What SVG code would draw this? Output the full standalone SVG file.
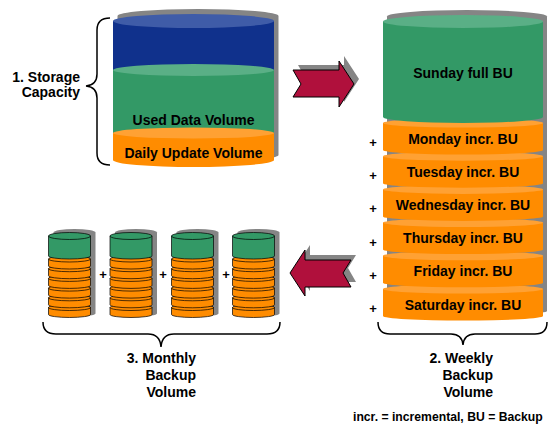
<svg xmlns="http://www.w3.org/2000/svg" xmlns:xlink="http://www.w3.org/1999/xlink" width="548" height="425" viewBox="0 0 548 425">
<style>
text{font-family:"Liberation Sans",Arial,sans-serif;font-weight:bold;fill:#000}
.lbl{font-size:14px}
.mid{text-anchor:middle}
.end{text-anchor:end}
.plus{font-size:13px;text-anchor:middle}
.shadow{fill:#858585}
.blue{fill:#10318C}.blueTop{fill:#3F5CA8}
.green{fill:#339966}.greenTop{fill:#5AAF86}
.orange{fill:#FF8C00}.orangeTop{fill:#FFA133}
.arrow{fill:#B0103C;stroke:#000;stroke-width:1}
.brace{fill:none;stroke:#000;stroke-width:1.5}
.small .green,.small .orange{stroke:#000;stroke-width:0.7}
</style>
<defs>
<g id="stack" class="small">
<path class="shadow" d="M-16,232.5 A21,3.5 0 0 1 26,232.5 L26,313.5 A21,3 0 0 1 -16,313.5 Z"/>
<path class="orange" d="M-21,307.5 L-21,314.5 A21,3 0 0 0 21,314.5 L21,307.5 Z"/><ellipse class="orange" cx="0" cy="307.5" rx="21" ry="3"/>
<path class="orange" d="M-21,297.8 L-21,304.8 A21,3 0 0 0 21,304.8 L21,297.8 Z"/><ellipse class="orange" cx="0" cy="297.8" rx="21" ry="3"/>
<path class="orange" d="M-21,288.1 L-21,295.1 A21,3 0 0 0 21,295.1 L21,288.1 Z"/><ellipse class="orange" cx="0" cy="288.1" rx="21" ry="3"/>
<path class="orange" d="M-21,278.4 L-21,285.4 A21,3 0 0 0 21,285.4 L21,278.4 Z"/><ellipse class="orange" cx="0" cy="278.4" rx="21" ry="3"/>
<path class="orange" d="M-21,268.7 L-21,275.7 A21,3 0 0 0 21,275.7 L21,268.7 Z"/><ellipse class="orange" cx="0" cy="268.7" rx="21" ry="3"/>
<path class="orange" d="M-21,259 L-21,266 A21,3 0 0 0 21,266 L21,259 Z"/><ellipse class="orange" cx="0" cy="259" rx="21" ry="3"/>
<path class="green" d="M-21,236 L-21,256 A21,3 0 0 0 21,256 L21,236 Z"/><ellipse class="green" cx="0" cy="236" rx="21" ry="3.5"/>
</g>
</defs>

<g id="storage-capacity">
<path class="shadow" d="M117.5,16 A80.5,7 0 0 1 278.5,16 L278.5,155 A80.5,7 0 0 1 117.5,155 Z"/>
<rect class="blue" x="113" y="21" width="161" height="51"/>
<ellipse class="blueTop" cx="193.5" cy="21" rx="80.5" ry="7"/>
<rect class="green" x="113" y="70" width="161" height="65"/>
<ellipse class="greenTop" cx="193.5" cy="70" rx="80.5" ry="6"/>
<path class="orange" d="M113,133 L113,160 A80.5,7 0 0 0 274,160 L274,133 Z"/>
<ellipse class="orangeTop" cx="193.5" cy="133" rx="80.5" ry="5.5"/>
<text class="lbl mid" x="193.5" y="125">Used Data Volume</text>
<text class="lbl mid" x="193.5" y="158">Daily Update Volume</text>
<path class="brace" d="M110,18 Q97,18 97,30 L97,74 Q97,85 86,86 Q97,87 97,98 L97,153 Q97,165 110,165"/>
<text class="lbl end" x="80" y="82">1. Storage</text>
<text class="lbl end" x="80" y="97">Capacity</text>
</g>

<g id="weekly-backup">
<path class="shadow" d="M387,16.5 A80,6.5 0 0 1 547,16.5 L547,311 A80,4.5 0 0 1 387,311 Z"/>
<path class="orange" d="M383,289 L383,316 A80,4.5 0 0 0 543,316 L543,289 Z"/><ellipse class="orangeTop" cx="463" cy="289" rx="80" ry="4.5"/>
<path class="orange" d="M383,255.8 L383,282.8 A80,4.5 0 0 0 543,282.8 L543,255.8 Z"/><ellipse class="orangeTop" cx="463" cy="255.8" rx="80" ry="4.5"/>
<path class="orange" d="M383,222.6 L383,249.6 A80,4.5 0 0 0 543,249.6 L543,222.6 Z"/><ellipse class="orangeTop" cx="463" cy="222.6" rx="80" ry="4.5"/>
<path class="orange" d="M383,189.4 L383,216.4 A80,4.5 0 0 0 543,216.4 L543,189.4 Z"/><ellipse class="orangeTop" cx="463" cy="189.4" rx="80" ry="4.5"/>
<path class="orange" d="M383,156.2 L383,183.2 A80,4.5 0 0 0 543,183.2 L543,156.2 Z"/><ellipse class="orangeTop" cx="463" cy="156.2" rx="80" ry="4.5"/>
<path class="orange" d="M383,123 L383,150 A80,4.5 0 0 0 543,150 L543,123 Z"/><ellipse class="orangeTop" cx="463" cy="123" rx="80" ry="4.5"/>
<path class="green" d="M383,21.5 L383,117 A80,6 0 0 0 543,117 L543,21.5 Z"/>
<ellipse class="greenTop" cx="463" cy="21.5" rx="80" ry="6.5"/>
<text class="lbl mid" x="463" y="78">Sunday full BU</text>
<text class="lbl mid" x="463" y="143.5">Monday incr. BU</text>
<text class="lbl mid" x="463" y="176.7">Tuesday incr. BU</text>
<text class="lbl mid" x="463" y="209.9">Wednesday incr. BU</text>
<text class="lbl mid" x="463" y="243.1">Thursday incr. BU</text>
<text class="lbl mid" x="463" y="276.3">Friday incr. BU</text>
<text class="lbl mid" x="463" y="309.5">Saturday incr. BU</text>
<text class="plus" x="373" y="147">+</text>
<text class="plus" x="373" y="180.2">+</text>
<text class="plus" x="373" y="213.4">+</text>
<text class="plus" x="373" y="246.6">+</text>
<text class="plus" x="373" y="279.8">+</text>
<text class="plus" x="373" y="313">+</text>
<path class="brace" d="M378,322 Q378,334 390,334 L451,334 Q462,334 463,345 Q464,334 475,334 L535,334 Q547,334 547,322"/>
<text class="lbl end" x="493" y="363">2. Weekly</text>
<text class="lbl end" x="493" y="380">Backup</text>
<text class="lbl end" x="493" y="397">Volume</text>
</g>

<g id="monthly-backup">
<use xlink:href="#stack" href="#stack" x="69.5" y="0"/>
<use xlink:href="#stack" href="#stack" x="131" y="0"/>
<use xlink:href="#stack" href="#stack" x="192.5" y="0"/>
<use xlink:href="#stack" href="#stack" x="253.5" y="0"/>
<text class="plus" x="103" y="279">+</text>
<text class="plus" x="163" y="279">+</text>
<text class="plus" x="226" y="279">+</text>
<path class="brace" d="M43,322 Q43,334 56,334 L148,334 Q160,334 161,347 Q162,334 174,334 L267,334 Q280,334 280,322"/>
<text class="lbl end" x="196" y="363">3. Monthly</text>
<text class="lbl end" x="196" y="380">Backup</text>
<text class="lbl end" x="196" y="397">Volume</text>
</g>

<g id="connectors">
<polygon class="shadow" points="298,65 344,65 344,56 359,79 344,102 344,92 298,92 306,79"/>
<polygon class="arrow" points="293,70 339,70 339,61 354,84 339,107 339,97 293,97 301,84"/>
<polygon class="shadow" points="295,268 310,245 310,255 356,255 348,268 356,282 310,282 310,291"/>
<polygon class="arrow" points="290,273 305,250 305,260 351,260 343,273 351,287 305,287 305,296"/>
</g>

<text x="353" y="421" style="font-size:12.2px">incr. = incremental, BU = Backup</text>
</svg>
